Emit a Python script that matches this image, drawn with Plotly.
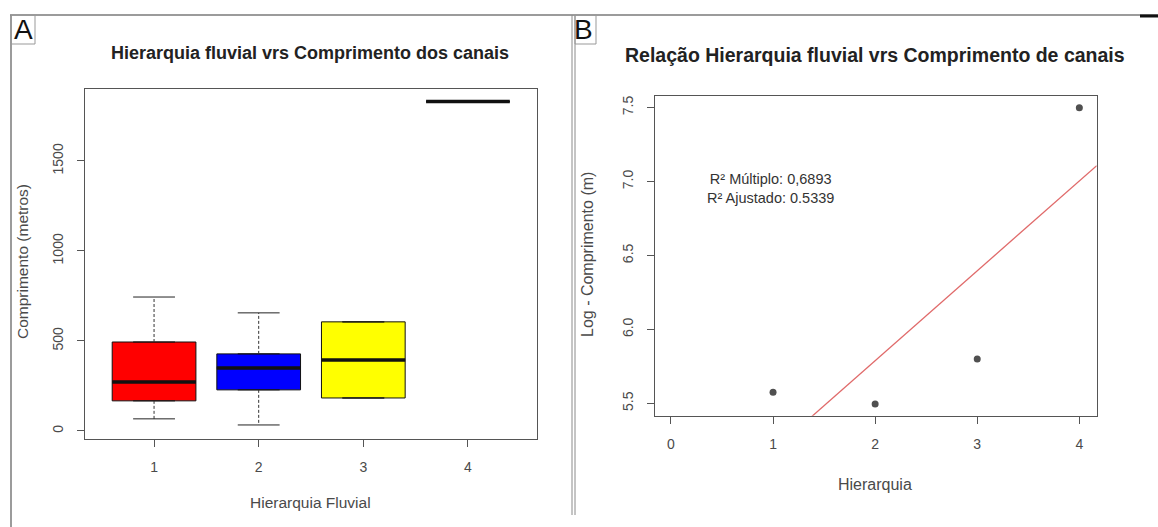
import numpy as np
import plotly.graph_objects as go

W, H = 1158, 527

# ---------------- data: panel A (boxplot statistics) ----------------
hier_cats = [1, 2, 3, 4]
box_q1 = [167, 228, 183, 1830]
box_median = [272, 350, 394, 1830]
box_q3 = [494, 428, 606, 1830]
box_lower = [67, 33, 183, 1830]
box_upper = [744, 656, 606, 1830]
box_colors = ["#FF0000", "#0000FF", "#FFFF00", "#FF0000"]
a_yticks = [0, 500, 1000, 1500]

# ---------------- data: panel B (log length per order) ----------------
b_x = [1, 2, 3, 4]
b_logy = [5.575, 5.495, 5.80, 7.50]
b_xticks = [0, 1, 2, 3, 4]
b_yticks = [5.5, 6.0, 6.5, 7.0, 7.5]
r2_texts = ["R² Múltiplo: 0,6893", "R² Ajustado: 0.5339"]

FONT = "Liberation Sans, Arial, Helvetica, sans-serif"
AX = "#555555"
TXT = "#4a4a4a"


def px(x):
    return x / W


def py(y):
    return 1 - y / H


fig = go.Figure()

BW = 0.8
for c, q1, med, q3, lo, hi, col in zip(hier_cats, box_q1, box_median, box_q3,
                                       box_lower, box_upper, box_colors):
    fig.add_trace(go.Box(
        x=[c], q1=[q1], median=[med], q3=[q3], lowerfence=[q1], upperfence=[q3],
        width=BW, fillcolor=col, line=dict(color="#111111", width=1),
        showlegend=False, xaxis="x", yaxis="y", hoverinfo="skip"))
    # dashed whiskers
    fig.add_trace(go.Scatter(x=[c, c], y=[q3, hi], mode="lines",
                             line=dict(color="#333333", width=1, dash="3px,2px"),
                             showlegend=False, xaxis="x", yaxis="y", hoverinfo="skip"))
    fig.add_trace(go.Scatter(x=[c, c], y=[q1, lo], mode="lines",
                             line=dict(color="#333333", width=1, dash="3px,2px"),
                             showlegend=False, xaxis="x", yaxis="y", hoverinfo="skip"))
    # staples
    for v in (lo, hi):
        fig.add_trace(go.Scatter(x=[c - BW / 4, c + BW / 4], y=[v, v], mode="lines",
                                 line=dict(color="#222222", width=1),
                                 showlegend=False, xaxis="x", yaxis="y", hoverinfo="skip"))
    # thick median
    fig.add_trace(go.Scatter(x=[c - BW / 2, c + BW / 2], y=[med, med], mode="lines",
                             line=dict(color="#111111", width=3.5),
                             showlegend=False, xaxis="x", yaxis="y", hoverinfo="skip"))

# Panel B points and regression line
slope, intercept = np.polyfit(b_x, b_logy, 1)
x_rng_b = [-0.165, 4.17]
fig.add_trace(go.Scatter(x=x_rng_b, y=[intercept + slope * v for v in x_rng_b],
                         mode="lines", line=dict(color="#E06A6A", width=1.3),
                         showlegend=False, xaxis="x2", yaxis="y2", hoverinfo="skip"))
fig.add_trace(go.Scatter(x=b_x, y=b_logy, mode="markers",
                         marker=dict(color="#505050", size=7),
                         showlegend=False, xaxis="x2", yaxis="y2", hoverinfo="skip"))

axis_common = dict(showline=True, mirror=True, linecolor=AX, linewidth=1,
                   ticks="outside", ticklen=7, tickcolor=AX, tickwidth=1,
                   showgrid=False, zeroline=False, automargin=False,
                   tickfont=dict(family=FONT, size=14, color=TXT))

fig.update_layout(
    width=W, height=H,
    margin=dict(l=0, r=0, t=0, b=0),
    paper_bgcolor="white", plot_bgcolor="white",
    font=dict(family=FONT, color=TXT),
    xaxis=dict(domain=[px(85), px(537)], range=[0.34, 4.66],
               tickmode="array", tickvals=hier_cats, ticktext=[str(c) for c in hier_cats],
               anchor="y", ticklabelstandoff=8, **axis_common),
    yaxis=dict(domain=[py(439), py(89)], range=[-45, 1900],
               tickmode="array", tickvals=a_yticks, ticktext=[str(v) for v in a_yticks],
               tickangle=-90, anchor="x", ticklabelstandoff=8, **axis_common),
    xaxis2=dict(domain=[px(654.6), px(1096.7)], range=[-0.16, 4.17],
                tickmode="array", tickvals=b_xticks, ticktext=[str(v) for v in b_xticks],
                anchor="y2", ticklabelstandoff=8, **axis_common),
    yaxis2=dict(domain=[py(415.8), py(95.8)], range=[5.416, 7.58],
                tickmode="array", tickvals=b_yticks, ticktext=[f"{v:.1f}" for v in b_yticks],
                tickangle=-90, anchor="x2", ticklabelstandoff=8, **axis_common),
)

ann = []
# titles
ann.append(dict(text="<b>Hierarquia fluvial vrs Comprimento dos canais</b>",
                x=px(310), y=py(53), xref="paper", yref="paper", showarrow=False,
                xanchor="center", yanchor="middle",
                font=dict(family=FONT, size=18, color="#222222")))
ann.append(dict(text="<b>Relação Hierarquia fluvial vrs Comprimento de canais</b>",
                x=px(875), y=py(55), xref="paper", yref="paper", showarrow=False,
                xanchor="center", yanchor="middle",
                font=dict(family=FONT, size=19.5, color="#222222")))
# axis titles
ann.append(dict(text="Hierarquia Fluvial", x=px(310), y=py(502), xref="paper", yref="paper",
                showarrow=False, xanchor="center", yanchor="middle",
                font=dict(family=FONT, size=15.5, color=TXT)))
ann.append(dict(text="Comprimento (metros)", x=px(23), y=py(262), xref="paper", yref="paper",
                showarrow=False, xanchor="center", yanchor="middle", textangle=-90,
                font=dict(family=FONT, size=15.5, color=TXT)))
ann.append(dict(text="Hierarquia", x=px(875), y=py(484), xref="paper", yref="paper",
                showarrow=False, xanchor="center", yanchor="middle",
                font=dict(family=FONT, size=16, color=TXT)))
ann.append(dict(text="Log - Comprimento (m)", x=px(587), y=py(255), xref="paper", yref="paper",
                showarrow=False, xanchor="center", yanchor="middle", textangle=-90,
                font=dict(family=FONT, size=16, color=TXT)))
# R2 text (data coords), one two-line block
ann.append(dict(text=r2_texts[0] + "<br>" + r2_texts[1], x=0.975, y=6.955,
                xref="x2", yref="y2", showarrow=False, align="center",
                xanchor="center", yanchor="middle",
                font=dict(family=FONT, size=14.5, color="#333333")))
# panel letters
ann.append(dict(text="A", x=px(23), y=py(29.5), xref="paper", yref="paper", showarrow=False,
                xanchor="center", yanchor="middle",
                font=dict(family=FONT, size=28, color="#111111")))
ann.append(dict(text="B", x=px(583.5), y=py(29.5), xref="paper", yref="paper", showarrow=False,
                xanchor="center", yanchor="middle",
                font=dict(family=FONT, size=28, color="#111111")))
fig.update_layout(annotations=ann)

shapes = []
# outer frame lines
shapes.append(dict(type="line", xref="paper", yref="paper", x0=px(10), x1=px(1158),
                   y0=py(15), y1=py(15), line=dict(color="#7a7a7a", width=1.5)))
shapes.append(dict(type="line", xref="paper", yref="paper", x0=px(1140), x1=px(1158),
                   y0=py(16), y1=py(16), line=dict(color="#111111", width=3)))
shapes.append(dict(type="line", xref="paper", yref="paper", x0=px(11), x1=px(11),
                   y0=py(15), y1=py(527), line=dict(color="#7a7a7a", width=1.5)))
shapes.append(dict(type="line", xref="paper", yref="paper", x0=px(572), x1=px(572),
                   y0=py(15), y1=py(515), line=dict(color="#8a8a8a", width=1)))
shapes.append(dict(type="line", xref="paper", yref="paper", x0=px(575), x1=px(575),
                   y0=py(15), y1=py(515), line=dict(color="#8a8a8a", width=1)))
# letter boxes
shapes.append(dict(type="rect", xref="paper", yref="paper", x0=px(11), x1=px(35),
                   y0=py(44), y1=py(15), line=dict(color="#999999", width=1)))
shapes.append(dict(type="rect", xref="paper", yref="paper", x0=px(575), x1=px(596),
                   y0=py(44), y1=py(15), line=dict(color="#999999", width=1)))
fig.update_layout(shapes=shapes)

fig.write_html("out.html")
